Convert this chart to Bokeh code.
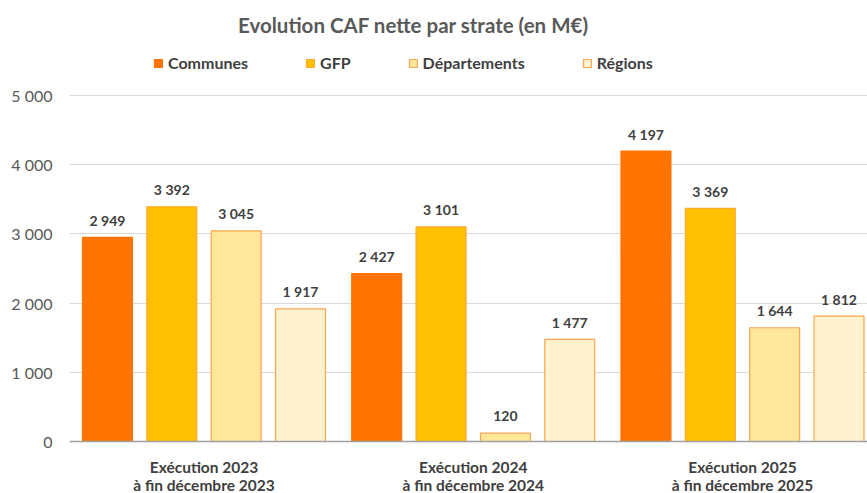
from bokeh.plotting import figure
from bokeh.models import Range1d, FixedTicker, Label, Span
from bokeh.embed import file_html
from bokeh.resources import INLINE
from bokeh.core.properties import value

# ---- data ----
cat_line1 = ["Exécution 2023", "Exécution 2024", "Exécution 2025"]
cat_line2 = ["à fin décembre 2023", "à fin décembre 2024", "à fin décembre 2025"]
series = ["Communes", "GFP", "Départements", "Régions"]
communes = [2949, 2427, 4197]
gfp = [3392, 3101, 3369]
departements = [3045, 120, 1644]
regions = [1917, 1477, 1812]
y_ticks = [0, 1000, 2000, 3000, 4000, 5000]
y_tick_labels = ["0", "1 000", "2 000", "3 000", "4 000", "5 000"]
title_text = "Evolution CAF nette par strate (en M€)"

# ---- styles ----
FONT = "Lato"
fills = ["#FF7300", "#FFC000", "#FFE699", "#FFF2CC"]
outlines = ["#FF7300", "#FFA82E", "#F9A552", "#F9A552"]
offsets = [-0.3585, -0.1195, 0.1195, 0.3585]
bar_w = 0.1855

p = figure(width=867, height=493,
           x_range=Range1d(-0.4995, 2.4643), y_range=Range1d(-751.4, 6372.8),
           output_backend="svg", toolbar_location=None,
           x_axis_location=None,
           min_border_left=69, min_border_right=0, min_border_top=0,
           min_border_bottom=0)
p.outline_line_color = None
p.background_fill_color = "white"

p.xgrid.visible = False
p.ygrid.ticker = FixedTicker(ticks=y_ticks)
p.ygrid.grid_line_color = "#D9D9D9"
p.ygrid.grid_line_width = 1

p.yaxis.ticker = FixedTicker(ticks=y_ticks)
p.yaxis.major_label_overrides = dict(zip(y_ticks, y_tick_labels))
p.yaxis.axis_line_color = None
p.yaxis.major_tick_line_color = None
p.yaxis.minor_tick_line_color = None
p.yaxis.major_label_standoff = 11
p.yaxis.major_label_text_font = FONT
p.yaxis.major_label_text_font_size = "16px"
p.yaxis.major_label_text_color = "#595959"

# baseline (category axis line)
p.add_layout(Span(location=0, dimension="width", line_color="#A0A0A0",
                  line_width=1.6))

all_vals = [communes, gfp, departements, regions]
for i, (name, vals) in enumerate(zip(series, all_vals)):
    xs = [g + offsets[i] for g in range(len(vals))]
    p.vbar(x=xs, top=vals, width=bar_w, bottom=0,
           fill_color=fills[i], line_color=outlines[i], line_width=1.2,
           legend_label=name)
    p.text(x=xs, y=vals, text=[f"{v:,}".replace(",", " ") for v in vals],
           text_align="center", text_baseline="middle", y_offset=-17,
           text_font=value(FONT), text_font_style="bold",
           text_font_size="14px", text_color="#404040")

# category labels under the baseline
cat_x = list(range(len(cat_line1)))
for labels, dy in ((cat_line1, 25), (cat_line2, 43)):
    p.text(x=cat_x, y=[0] * len(cat_x), text=labels,
           text_align="center", text_baseline="middle", y_offset=dy,
           text_font=value(FONT), text_font_style="bold",
           text_font_size="15.5px", text_color="#404040")

lg = p.legend[0]
lg.orientation = "horizontal"
lg.location = (84, 421)
lg.spacing = 57
lg.padding = 0
lg.margin = 0
lg.border_line_color = None
lg.background_fill_alpha = 0
lg.glyph_width = 10
lg.glyph_height = 10
lg.label_standoff = 5
lg.label_text_font = FONT
lg.label_text_font_style = "bold"
lg.label_text_font_size = "16px"
lg.label_text_color = "#404040"

p.add_layout(Label(x=344, y=469, x_units="screen", y_units="screen",
                   text=title_text, text_align="center",
                   text_baseline="middle", text_font=FONT,
                   text_font_style="bold", text_font_size="20.5px",
                   text_color="#595959"))

open("out.html", "w").write(file_html(p, INLINE))
